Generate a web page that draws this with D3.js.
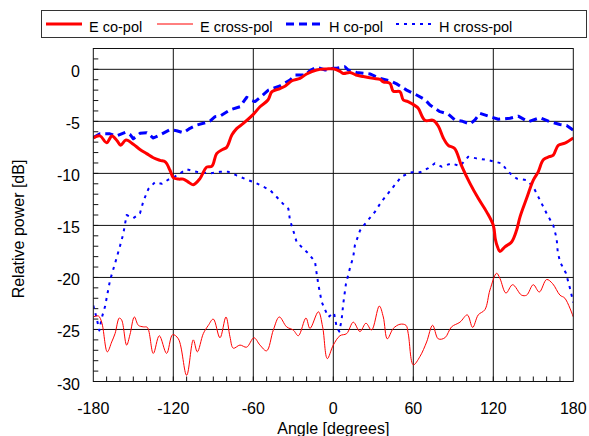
<!DOCTYPE html>
<html>
<head>
<meta charset="utf-8">
<script src="https://cdn.jsdelivr.net/npm/d3@7"></script>
<style>
  body { margin: 0; background: #fff; }
  svg { display: block; font-family: "Liberation Sans", Arial, sans-serif; }
</style>
</head>
<body>
<div id="chart"></div>
<script>
// ── Data: [angle (deg), relative power (dB)] ──
const eCoPol = [
  [-180,-6.6],[-175,-6.4],[-170,-7.05],[-166,-6.4],[-162,-6.9],[-159.5,-7.3],[-155.5,-6.8],
  [-150,-7.2],[-145,-7.7],[-140,-8.1],[-135,-8.5],[-130,-8.75],[-126,-8.9],[-122.5,-9.7],
  [-120,-10.4],[-116,-10.55],[-112.5,-10.55],[-108,-10.9],[-105,-11.1],[-100,-10.5],[-95,-9.4],
  [-91,-9.3],[-87.5,-8.1],[-83,-7.7],[-80,-7.5],[-76,-6.3],[-72.5,-5.7],[-67.5,-5.2],[-60,-4.33],
  [-55,-3.6],[-49,-2.95],[-46,-2.15],[-40,-1.85],[-36,-1.6],[-31,-1.1],[-25,-0.87],[-20,-0.45],
  [-12.5,-0.07],[-5,0.03],[0,0.05],[5,-0.2],[7.5,-0.4],[12.5,-0.3],[17,-0.55],[22.5,-0.7],
  [30,-0.87],[35,-0.96],[37.5,-1.2],[42.5,-1.35],[45,-2.1],[50,-2.15],[52.5,-2.95],[56,-3.1],
  [62.5,-3.6],[64,-3.8],[68.7,-4.9],[75,-4.9],[78.7,-5.45],[82.5,-6.6],[86.2,-7.3],[91,-7.6],
  [96,-9.2],[102.5,-10.96],[108.7,-12.4],[115,-13.7],[120,-15],[121.5,-16.3],[123,-17.0],
  [125,-17.5],[128.7,-17.06],[133.7,-16.6],[137.5,-15.45],[140,-14.2],[145,-12.4],[150,-10.64],
  [153.7,-9.85],[157.5,-8.7],[162,-8.4],[165,-8.24],[168.7,-7.3],[173.7,-7.1],[180,-6.6]
];

const eCrossPol = [
  [-180,-23.8],[-176.2,-23.7],[-173.7,-24.3],[-169.5,-27.15],[-166.2,-26.2],[-163.7,-25.4],
  [-160.5,-23.9],[-158.7,-24.1],[-155,-26.5],[-152.5,-25.5],[-149.2,-23.8],[-146.2,-24.6],
  [-142.5,-24.75],[-139.5,-24.8],[-135,-27.3],[-130.5,-25.6],[-125,-27.3],[-120.5,-25.5],
  [-116.2,-25.9],[-110,-29.4],[-105,-26.0],[-102,-27.15],[-97.5,-25.4],[-93.7,-24.6],[-90,-24.0],
  [-85,-25.8],[-80.5,-23.8],[-77.5,-25.7],[-75,-26.8],[-70,-26.5],[-65,-26.7],[-59.5,-25.8],
  [-55,-26.5],[-50,-27.05],[-45,-25.06],[-40.5,-23.8],[-35,-24.75],[-30,-25.06],[-26.2,-25.6],
  [-20.5,-23.9],[-17.5,-24.9],[-11.2,-23.3],[-8,-24.75],[-4.5,-27.8],[0,-26.5],[5,-25.6],
  [10,-25.4],[15,-24.3],[20,-25.2],[24.5,-24.4],[28.7,-25.06],[34.5,-22.75],[37.5,-23.8],
  [40.5,-25.9],[45,-24.9],[50,-24.5],[54.5,-24.6],[56.2,-25.4],[60,-28.4],[65,-27.6],[70,-26.2],
  [74.5,-24.6],[78.7,-25.9],[83.7,-25.8],[88.7,-24.75],[95,-24.3],[100.5,-23.6],[104.5,-24.8],
  [108.7,-23.6],[113.7,-23.1],[117.5,-21.2],[122.5,-19.6],[125,-20.1],[129.5,-21.5],[134.5,-20.7],
  [141.2,-21.7],[145,-21.7],[150,-20.7],[154.5,-21.4],[160,-20.2],[164.5,-20.6],[170,-21.7],
  [173.7,-22.0],[180,-23.8]
];

const hCoPol = [
  [-180,-6.57],[-175,-6.2],[-167.5,-6.2],[-162.5,-6.4],[-156,-6.06],[-152.5,-6.25],[-150,-6.67],
  [-145,-6.15],[-140,-6.1],[-135,-6.6],[-130,-6.3],[-122.5,-5.8],[-117.5,-5.9],[-112.5,-6.1],
  [-107.5,-5.67],[-102.5,-5.36],[-96,-5.13],[-92.5,-4.97],[-88.7,-4.55],[-85,-4.5],[-77.5,-3.9],
  [-70,-3.6],[-65,-2.7],[-61,-3.0],[-58.7,-3.1],[-53.7,-2.57],[-48.7,-2],[-40,-1.6],[-32.5,-1.03],
  [-28.7,-0.55],[-21.2,-0.55],[-17.5,-0.13],[-12.5,0.2],[-6,-0.07],[0,0.1],[2.5,0.1],[8.7,0.25],
  [11.2,-0.07],[17.5,-0.3],[27.5,-0.45],[35,-0.87],[42.5,-1.1],[47.5,-1.4],[55,-2],[62.5,-2.47],
  [68.7,-2.9],[72.5,-3.43],[80,-4.07],[86.2,-4.3],[91,-4.85],[97,-5.0],[102.5,-5.26],[106.2,-4.87],
  [110,-4.23],[117.5,-4.55],[123.7,-4.8],[132.5,-4.7],[138.7,-4.5],[146.2,-5.04],[155,-4.65],
  [162.5,-5.04],[170,-5.3],[175,-5.4],[180,-5.85]
];

const hCrossPol = [
  [-180,-22.7],[-177.5,-23.9],[-175.5,-25.1],[-173.7,-23.9],[-171.2,-22.8],[-167.5,-20.3],
  [-163.7,-18.65],[-160,-17.0],[-157.5,-15.8],[-155,-14],[-150,-14.3],[-145,-13.85],[-142.5,-12.7],
  [-138.7,-11.5],[-133.7,-10.85],[-128.7,-11],[-123.7,-10.6],[-118.7,-10.3],[-110,-9.6],
  [-102.5,-9.85],[-92.5,-10],[-85,-9.85],[-78.7,-9.85],[-72.5,-10.2],[-63.7,-10.65],[-57.5,-10.96],
  [-47.5,-11.6],[-43.7,-12.1],[-37.5,-12.95],[-33.7,-13.4],[-32.5,-14.5],[-30,-15.5],[-27.5,-16.6],
  [-18.7,-17.7],[-13.7,-18.5],[-12.5,-19.6],[-11.2,-20.7],[-8.7,-22.35],[-6.2,-23.1],[-3.7,-23.8],
  [0.5,-23.4],[2.5,-24.75],[4.5,-25.2],[6.2,-24.1],[7.5,-22.5],[9.5,-20.6],[12.5,-19.1],[15,-18],
  [16.2,-16.9],[20,-15.5],[25,-14.65],[31.2,-13.7],[36.2,-12.7],[40,-12.1],[46.2,-11.1],
  [51.2,-10.3],[58.7,-9.9],[65,-9.9],[71.2,-9.5],[76.2,-9.04],[81.2,-9.36],[88.7,-9.04],[95,-9.3],
  [101.2,-8.4],[107.5,-8.56],[115,-8.7],[121.2,-8.88],[126.2,-9.04],[131.2,-9.85],[137.5,-10.5],
  [145,-10.65],[150,-11.3],[155,-12.57],[160,-13.85],[165,-15],[167.5,-16.25],[168.3,-17.5],
  [170,-18.5],[174.5,-19.6],[177.5,-21.05],[180,-22.4]
];

const xTicks = [-180, -120, -60, 0, 60, 120, 180];
const yTicks = [0, -5, -10, -15, -20, -25, -30];

const SERIES = [
  { name: 'E co-pol',    data: eCoPol,    color: '#ff0000', width: 3,   dash: null,  smooth: true },
  { name: 'E cross-pol', data: eCrossPol, color: '#ff0000', width: 1,   dash: null,  smooth: true },
  { name: 'H co-pol',    data: hCoPol,    color: '#0000ff', width: 3,   dash: '8,5', smooth: false },
  { name: 'H cross-pol', data: hCrossPol, color: '#0000ff', width: 2,   dash: '3,5', smooth: false },
];

// ── Layout ─────────────────────────────────────────────────
const W = 589, H = 436;
const plot = { left: 93.3, right: 573.3, top: 48.5, bottom: 381.5 };

const svg = d3.select('#chart').append('svg')
  .attr('width', W).attr('height', H);

const x = d3.scaleLinear().domain([-180, 180]).range([plot.left, plot.right]);
const y = d3.scaleLinear().domain([-30, 2]).range([plot.bottom, plot.top]);

// ── Grid ───────────────────────────────────────────────────
const grid = svg.append('g').attr('stroke', '#111').attr('stroke-width', 1);
grid.selectAll('.gx').data(xTicks.slice(1, -1)).join('line')
  .attr('x1', d => x(d)).attr('x2', d => x(d))
  .attr('y1', plot.top).attr('y2', plot.bottom);
grid.selectAll('.gy').data(yTicks.slice(0, -1)).join('line')
  .attr('x1', plot.left).attr('x2', plot.right)
  .attr('y1', d => y(d)).attr('y2', d => y(d));

// minor ticks, pointing inward
const minorX = d3.range(-170, 180, 10);
const minorY = d3.range(-29, 2, 1);
grid.selectAll('.mx').data(minorX).join('line')
  .attr('x1', d => x(d)).attr('x2', d => x(d))
  .attr('y1', plot.bottom).attr('y2', plot.bottom - 5);
grid.selectAll('.my').data(minorY).join('line')
  .attr('x1', plot.left).attr('x2', plot.left + 5)
  .attr('y1', d => y(d)).attr('y2', d => y(d));

// ── Lines ──────────────────────────────────────────────────
svg.append('clipPath').attr('id', 'clip').append('rect')
  .attr('x', plot.left).attr('y', plot.top)
  .attr('width', plot.right - plot.left).attr('height', plot.bottom - plot.top);

const linesG = svg.append('g').attr('clip-path', 'url(#clip)');
SERIES.slice().reverse().forEach(s => {
  const line = d3.line()
    .x(d => x(d[0])).y(d => y(d[1]))
    .curve(s.smooth ? d3.curveCatmullRom.alpha(0.5) : d3.curveLinear);
  linesG.append('path')
    .datum(s.data)
    .attr('d', line)
    .attr('fill', 'none')
    .attr('stroke', s.color)
    .attr('stroke-width', s.width)
    .attr('stroke-dasharray', s.dash)
    .attr('stroke-linejoin', 'round');
});

// ── Frame ──────────────────────────────────────────────────
svg.append('rect')
  .attr('x', plot.left).attr('y', plot.top)
  .attr('width', plot.right - plot.left).attr('height', plot.bottom - plot.top)
  .attr('fill', 'none').attr('stroke', '#111').attr('stroke-width', 1);

// ── Axis labels ────────────────────────────────────────────
svg.append('g').selectAll('text').data(xTicks).join('text')
  .attr('x', d => x(d)).attr('y', 414)
  .attr('text-anchor', 'middle').attr('font-size', 16).attr('fill', '#000')
  .text(d => d);

svg.append('g').selectAll('text').data(yTicks).join('text')
  .attr('x', 80).attr('y', d => y(d) + 8)
  .attr('text-anchor', 'end').attr('font-size', 16).attr('fill', '#000')
  .text(d => d);

svg.append('text')
  .attr('x', (plot.left + plot.right) / 2).attr('y', 434)
  .attr('text-anchor', 'middle').attr('font-size', 16)
  .text('Angle [degrees]');

svg.append('text')
  .attr('transform', 'translate(24, 229) rotate(-90)')
  .attr('text-anchor', 'middle').attr('font-size', 16)
  .text('Relative power [dB]');

// ── Legend ─────────────────────────────────────────────────
svg.append('rect')
  .attr('x', 41.5).attr('y', 10.5).attr('width', 545).attr('height', 27)
  .attr('fill', '#fff').attr('stroke', '#333').attr('stroke-width', 1);

const legendX = [46, 157, 286, 396];
const legend = svg.append('g');
SERIES.forEach((s, i) => {
  legend.append('line')
    .attr('x1', legendX[i]).attr('x2', legendX[i] + 36)
    .attr('y1', 24).attr('y2', 24)
    .attr('stroke', s.color)
    .attr('stroke-width', s.width)
    .attr('stroke-dasharray', s.dash);
  legend.append('text')
    .attr('x', legendX[i] + 43).attr('y', 31.5)
    .attr('font-size', 14.5)
    .text(s.name);
});
</script>
</body>
</html>
